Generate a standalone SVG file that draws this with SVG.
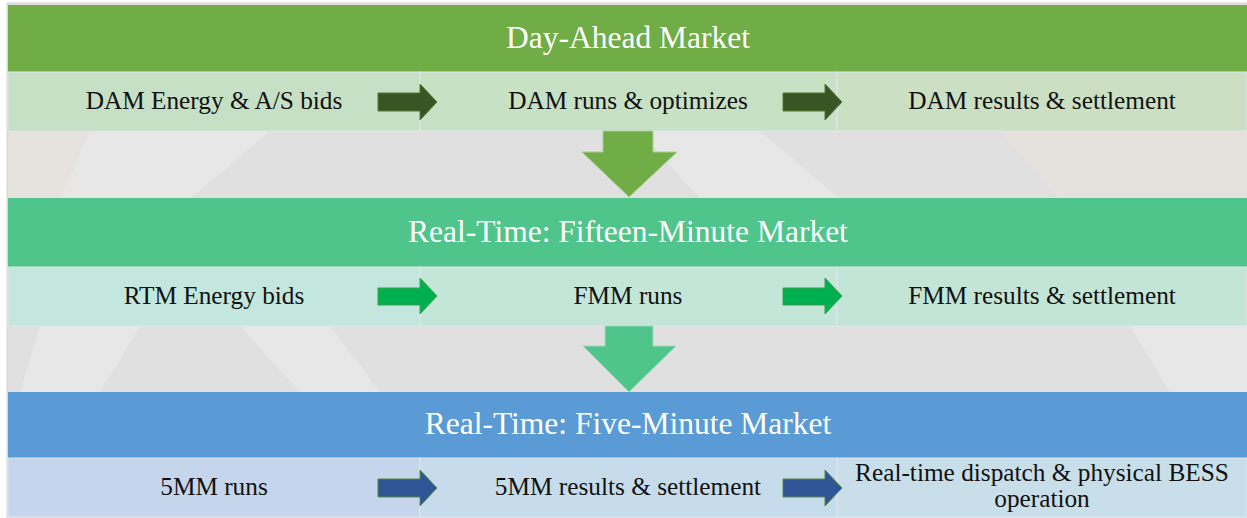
<svg xmlns="http://www.w3.org/2000/svg" width="1247" height="518" viewBox="0 0 1247 518">
<style>
.hdr{font-family:"Liberation Serif","Times New Roman",serif;font-size:31.5px;fill:#ffffff;text-anchor:middle}
.sub{font-family:"Liberation Serif","Times New Roman",serif;font-size:25.3px;fill:#111111;text-anchor:middle}
.cell{stroke:#dfe6ee;stroke-width:1}
.a1{fill:#375623;stroke:#4f7a35;stroke-width:1}
.a2{fill:#00b050;stroke:#3f9f4f;stroke-width:1}
.a3{fill:#2f5597;stroke:#5a8a3c;stroke-width:1}
.wm{fill:#e7e7e7}
</style>
<rect x="0" y="0" width="1247" height="518" fill="#ffffff"/>
<g id="background">
<rect x="7" y="3" width="1240" height="515" fill="#e0e0e0" stroke="#d6d6d6" stroke-width="1"/>
<polygon points="8,131 90,131 60,199 8,199" fill="#e6e3df"/>
<polygon class="wm" points="90,131 270,131 190,199 60,199"/>
<polygon points="1000,131 1247,131 1247,199 1060,199" fill="#e5e2de"/>
<polygon class="wm" points="640,131 760,131 840,199 700,199"/>
<polygon class="wm" points="40,326 140,326 100,392 20,392"/>
<polygon class="wm" points="240,326 330,326 380,392 300,392"/>
<polygon class="wm" points="1130,326 1247,326 1247,392 1170,392"/>
</g>
<g id="day-ahead-market">
<rect x="8" y="5" width="1239" height="67" fill="#70ad47"/>
<text class="hdr" x="628" y="48">Day-Ahead Market</text>
</g>
<g id="dam-bids">
<rect class="cell" x="8" y="72" width="412" height="59" fill="#c6e0c6"/>
<text class="sub" x="214" y="109">DAM Energy &amp; A/S bids</text>
</g>
<g id="dam-runs">
<rect class="cell" x="420" y="72" width="417" height="59" fill="#c7e1c5"/>
<text class="sub" x="628" y="109">DAM runs &amp; optimizes</text>
</g>
<g id="dam-results">
<rect class="cell" x="837" y="72" width="410" height="59" fill="#cbdfc3"/>
<text class="sub" x="1042" y="109">DAM results &amp; settlement</text>
</g>
<g id="fifteen-minute-market">
<rect x="8" y="198" width="1239" height="69" fill="#4fc58c"/>
<text class="hdr" x="628" y="242">Real-Time: Fifteen-Minute Market</text>
</g>
<g id="rtm-bids">
<rect class="cell" x="8" y="267" width="412" height="59" fill="#c3e7dd"/>
<text class="sub" x="214" y="304">RTM Energy bids</text>
</g>
<g id="fmm-runs">
<rect class="cell" x="420" y="267" width="417" height="59" fill="#c4e6d9"/>
<text class="sub" x="628" y="304">FMM runs</text>
</g>
<g id="fmm-results">
<rect class="cell" x="837" y="267" width="410" height="59" fill="#c3e5d7"/>
<text class="sub" x="1042" y="304">FMM results &amp; settlement</text>
</g>
<g id="five-minute-market">
<rect x="8" y="392" width="1239" height="66" fill="#5b9bd5"/>
<text class="hdr" x="628" y="434">Real-Time: Five-Minute Market</text>
</g>
<g id="5mm-runs">
<rect class="cell" x="8" y="458" width="412" height="59" fill="#c5d6ec"/>
<text class="sub" x="214" y="495">5MM runs</text>
</g>
<g id="5mm-results">
<rect class="cell" x="420" y="458" width="417" height="59" fill="#c6dcec"/>
<text class="sub" x="628" y="495">5MM results &amp; settlement</text>
</g>
<g id="dispatch">
<rect class="cell" x="837" y="458" width="410" height="59" fill="#c8dfea"/>
<text class="sub" x="1042" y="481">Real-time dispatch &amp; physical BESS</text>
<text class="sub" x="1042" y="507">operation</text>
</g>
<g id="connectors">
<polygon class="a1" points="378,93 420,93 420,84 437,102 420,120 420,111 378,111"/>
<polygon class="a1" points="783,93 825,93 825,84 842,102 825,120 825,111 783,111"/>
<polygon class="a2" points="378,288 420,288 420,278 437,296 420,314 420,305 378,305"/>
<polygon class="a2" points="783,288 825,288 825,278 842,296 825,314 825,305 783,305"/>
<polygon class="a3" points="378,479 420,479 420,470 437,488 420,506 420,497 378,497"/>
<polygon class="a3" points="783,479 825,479 825,470 842,488 825,506 825,497 783,497"/>
<polygon points="603,131 653,131 653,152 677,152 629,197 582,152 603,152" fill="#70ad47" stroke="#a9cf8e" stroke-width="1"/>
<polygon points="605,326 653,326 653,346 676,346 629,392 583,346 605,346" fill="#4fc58c" stroke="#9fdcbd" stroke-width="1"/>
</g>
</svg>
